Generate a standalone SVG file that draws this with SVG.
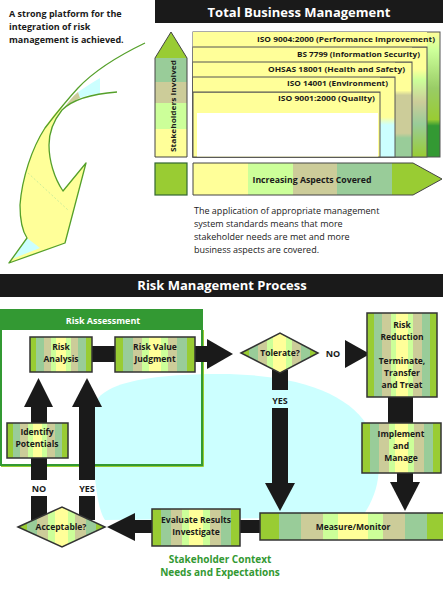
<svg xmlns="http://www.w3.org/2000/svg" width="443" height="594" viewBox="0 0 443 594">
<style>
.t{font-family:"Open Sans","Liberation Sans",sans-serif;font-weight:bold;fill:#1a1a1a;text-anchor:middle}
.w{fill:#ffffff}
.lbl{font-size:8.5px}
.iso{font-size:7.5px;text-anchor:end}
.box{fill:url(#stripe);stroke:#333;stroke-width:1.5}
.bar{fill:#1a1a1a}
.nest{stroke:#555;stroke-width:1}
.p{font-family:"Open Sans","Liberation Sans",sans-serif;font-size:9px;fill:#1a1a1a}
</style>
<defs>
<linearGradient id="stripe" x1="0" y1="0" x2="1" y2="0">
<stop offset="0" stop-color="#99cc33"/><stop offset="0.1" stop-color="#99cc33"/>
<stop offset="0.1" stop-color="#99cc99"/><stop offset="0.22" stop-color="#99cc99"/>
<stop offset="0.22" stop-color="#cccc99"/><stop offset="0.34" stop-color="#cccc99"/>
<stop offset="0.34" stop-color="#ccff99"/><stop offset="0.42" stop-color="#ccff99"/>
<stop offset="0.42" stop-color="#ffff99"/><stop offset="0.58" stop-color="#ffff99"/>
<stop offset="0.58" stop-color="#ccff99"/><stop offset="0.66" stop-color="#ccff99"/>
<stop offset="0.66" stop-color="#cccc99"/><stop offset="0.78" stop-color="#cccc99"/>
<stop offset="0.78" stop-color="#99cc99"/><stop offset="0.9" stop-color="#99cc99"/>
<stop offset="0.9" stop-color="#99cc33"/><stop offset="1" stop-color="#99cc33"/>
</linearGradient>
<linearGradient id="gStake" x1="0" y1="0" x2="0" y2="1">
<stop offset="0" stop-color="#99cc33"/><stop offset="0.21" stop-color="#99cc33"/>
<stop offset="0.21" stop-color="#99cc99"/><stop offset="0.4" stop-color="#99cc99"/>
<stop offset="0.4" stop-color="#cccc99"/><stop offset="0.57" stop-color="#cccc99"/>
<stop offset="0.57" stop-color="#ccff99"/><stop offset="0.78" stop-color="#ccff99"/>
<stop offset="0.78" stop-color="#ffff99"/><stop offset="1" stop-color="#ffff99"/>
</linearGradient>
<linearGradient id="gAspect" x1="0" y1="0" x2="1" y2="0">
<stop offset="0" stop-color="#ffff99"/><stop offset="0.22" stop-color="#ffff99"/>
<stop offset="0.22" stop-color="#ccff99"/><stop offset="0.4" stop-color="#ccff99"/>
<stop offset="0.4" stop-color="#cccc99"/><stop offset="0.58" stop-color="#cccc99"/>
<stop offset="0.58" stop-color="#99cc99"/><stop offset="0.8" stop-color="#99cc99"/>
<stop offset="0.8" stop-color="#99cc33"/><stop offset="1" stop-color="#99cc33"/>
</linearGradient>
<linearGradient id="g9004" x1="0" y1="0" x2="0" y2="1">
<stop offset="0" stop-color="#ffff99"/><stop offset="0.15" stop-color="#ccff99"/>
<stop offset="0.45" stop-color="#99cc66"/><stop offset="0.7" stop-color="#99cc33"/>
<stop offset="0.75" stop-color="#339933"/><stop offset="1" stop-color="#339933"/>
</linearGradient>
<linearGradient id="gBS" x1="0" y1="0" x2="0" y2="1">
<stop offset="0" stop-color="#ffff99"/><stop offset="0.2" stop-color="#ffff99"/>
<stop offset="0.3" stop-color="#ccff99"/><stop offset="0.5" stop-color="#cccc99"/>
<stop offset="0.7" stop-color="#99cc99"/><stop offset="1" stop-color="#99cc33"/>
</linearGradient>
<linearGradient id="gOH" x1="0" y1="0" x2="0" y2="1">
<stop offset="0" stop-color="#ffff99"/><stop offset="0.3" stop-color="#ffff99"/>
<stop offset="0.35" stop-color="#cccc99"/><stop offset="0.75" stop-color="#cccc99"/>
<stop offset="0.8" stop-color="#99cc99"/><stop offset="1" stop-color="#99cc99"/>
</linearGradient>
<linearGradient id="g14" x1="0" y1="0" x2="0" y2="1">
<stop offset="0" stop-color="#ffff99"/><stop offset="0.5" stop-color="#ffff99"/>
<stop offset="0.6" stop-color="#ccffff"/><stop offset="1" stop-color="#ccffff"/>
</linearGradient>
</defs>

<rect width="443" height="594" fill="#ffffff"/>

<!-- Top section -->
<g id="platform-text">
<text class="t" style="font-size:9px;text-anchor:start" x="9" y="17">A strong platform for the</text>
<text class="t" style="font-size:9px;text-anchor:start" x="9" y="30">integration of risk</text>
<text class="t" style="font-size:9px;text-anchor:start" x="9" y="43">management is achieved.</text>
</g>

<g id="curved-arrow">
<path d="M100,78 C92,83 85,87 78,92 L80,98 C88,95 94,94 100,94 Z" fill="#ccffff"/>
<path d="M78,92 C72,97 68,102 64,108 C70,103 75,100 80,98 Z" fill="#cccc99"/>
<path d="M64,104 C55,112 45,125 38,140 C28,160 21,185 20,205 C20,220 23,232 27,238 L9,263 L65,243 L86,163 L63,191 C55,180 50,165 49,150 C48,135 52,122 60,112 Z" fill="#ffff99"/>
<path d="M27,238 L12,259 L40,248 Z" fill="#ccffff"/>
<path d="M28,173 L68,210" stroke="#ccee99" stroke-width="1" stroke-dasharray="2,2" fill="none"/>
<path d="M145,43 C120,55 95,70 78,88 C65,102 55,115 45,128 C32,148 22,178 20,205 C20,220 23,232 27,238 L9,263 L65,243 L86,163 L63,191 C54,178 49,160 49,145 C49,130 54,120 62,110 C72,100 90,94 117,92" fill="none" stroke="#55a02a" stroke-width="1.3" stroke-linejoin="round"/>
</g>

<g id="title-tbm">
<rect x="155" y="0" width="288" height="23" fill="#1a1a1a"/>
<text class="t w" style="font-size:13px" x="299" y="17">Total Business Management</text>
</g>

<g id="stakeholders-involved">
<polygon points="155,58 171,32 187,58 187,157 155,157" fill="url(#gStake)" stroke="#444" stroke-width="1"/>
<text class="t" style="font-size:7.5px" transform="translate(176,106) rotate(-90)" textLength="92" lengthAdjust="spacingAndGlyphs">Stakeholders Involved</text>
</g>

<g id="standards">
<rect class="nest" x="193" y="32" width="247" height="125" fill="url(#g9004)"/>
<rect class="nest" x="193" y="47" width="234" height="110" fill="url(#gBS)"/>
<rect class="nest" x="193" y="62" width="219" height="95" fill="url(#gOH)"/>
<rect class="nest" x="193" y="77" width="202" height="80" fill="url(#g14)"/>
<rect class="nest" x="193" y="92" width="187" height="65" fill="#ffff99"/>
<rect x="197" y="113" width="181" height="43.5" fill="#ffffff"/>
<rect x="193" y="32" width="234" height="15" fill="#ffff99"/>
<rect x="193" y="47" width="219" height="15" fill="#ffff99"/>
<rect x="193" y="62" width="202" height="15" fill="#ffff99"/>
<rect x="193" y="77" width="187" height="15" fill="#ffff99"/>
<path d="M193,47 H427 M193,62 H412 M193,77 H395 M193,92 H380" stroke="#555" stroke-width="1"/>
<text class="t iso" x="435" y="42" textLength="178" lengthAdjust="spacingAndGlyphs">ISO 9004:2000 (Performance Improvement)</text>
<text class="t iso" x="420" y="57" textLength="123" lengthAdjust="spacingAndGlyphs">BS 7799 (Information Security)</text>
<text class="t iso" x="405" y="72" textLength="137" lengthAdjust="spacingAndGlyphs">OHSAS 18001 (Health and Safety)</text>
<text class="t iso" x="388" y="86" textLength="101" lengthAdjust="spacingAndGlyphs">ISO 14001 (Environment)</text>
<text class="t iso" x="375" y="101" textLength="97" lengthAdjust="spacingAndGlyphs">ISO 9001:2000 (Quality)</text>
</g>

<g id="stake-square">
<rect x="155" y="163" width="32" height="32" fill="#99cc33" stroke="#336633" stroke-width="1.2"/>
</g>

<g id="increasing-aspects">
<polygon points="193,163 413,163 442,179 413,195 193,195" fill="url(#gAspect)" stroke="#444" stroke-width="1"/>
<text class="t" style="font-size:8.5px" x="312" y="183" textLength="119" lengthAdjust="spacingAndGlyphs">Increasing Aspects Covered</text>
</g>

<g id="application-text">
<text class="p" x="194" y="214">The application of appropriate management</text>
<text class="p" x="194" y="227">system standards means that more</text>
<text class="p" x="194" y="240">stakeholder needs are met and more</text>
<text class="p" x="194" y="253">business aspects are covered.</text>
</g>

<!-- Bottom section -->
<g id="title-rmp">
<rect x="0" y="274" width="443" height="23" fill="#1a1a1a"/>
<text class="t w" style="font-size:13px" x="222" y="290">Risk Management Process</text>
</g>

<g id="context-bg">
<path d="M95,405 C100,383 150,374 220,374 C300,374 352,395 370,430 C385,460 380,492 362,517 L105,520 C94,505 91,440 95,405 Z" fill="#ccffff"/>
</g>

<g id="risk-assessment">
<rect x="1" y="310" width="201" height="155" fill="none" stroke="#339933" stroke-width="2"/>
<path d="M203.5,330 V466.5 H1" fill="none" stroke="#99cc33" stroke-width="1"/>
<rect x="0" y="309" width="203" height="21" fill="#339933"/>
<text class="t w" style="font-size:9px" x="103" y="324">Risk Assessment</text>
</g>

<g id="connectors">
<rect class="bar" x="92" y="346" width="23" height="16"/>
<rect class="bar" x="195" y="346" width="13" height="16"/>
<polygon class="bar" points="207,339 233,354 207,369"/>
<polygon class="bar" points="345,340 370,354 345,368"/>
<text class="t" style="font-size:9px" x="333" y="357">NO</text>
<rect class="bar" x="388" y="397" width="25" height="27"/>
<rect class="bar" x="397" y="473" width="16" height="10"/>
<polygon class="bar" points="390,482 420,482 405,511"/>
<rect class="bar" x="272" y="370" width="16" height="20"/>
<text class="t" style="font-size:9px" x="280" y="404">YES</text>
<rect class="bar" x="272" y="408" width="16" height="76"/>
<polygon class="bar" points="265,483 295,483 280,511"/>
<rect class="bar" x="240" y="520" width="20" height="13"/>
<rect class="bar" x="134" y="520" width="18" height="13"/>
<polygon class="bar" points="135,513 135,541 107,527"/>
<rect class="bar" x="31" y="458" width="16" height="22"/>
<text class="t" style="font-size:9px" x="39" y="492">NO</text>
<rect class="bar" x="31" y="496" width="16" height="24"/>
<rect class="bar" x="31" y="406" width="16" height="17"/>
<polygon class="bar" points="24,407 53,407 38.5,378"/>
<rect class="bar" x="79" y="406" width="16" height="74"/>
<text class="t" style="font-size:9px" x="87" y="492">YES</text>
<rect class="bar" x="79" y="496" width="16" height="24"/>
<polygon class="bar" points="72,407 102,407 87,378"/>
</g>

<g id="risk-analysis">
<rect class="box" x="30" y="337" width="62" height="35"/>
<text class="t lbl" x="61" y="350">Risk</text>
<text class="t lbl" x="61" y="362">Analysis</text>
</g>
<g id="risk-value-judgment">
<rect class="box" x="115" y="337" width="80" height="35"/>
<text class="t lbl" x="155" y="350">Risk Value</text>
<text class="t lbl" x="155" y="362">Judgment</text>
</g>
<g id="tolerate">
<polygon class="box" points="241,353 280,333 318,353 280,373"/>
<text class="t" style="font-size:8.5px" x="280" y="356">Tolerate?</text>
</g>
<g id="risk-reduction">
<rect class="box" x="367" y="313" width="70" height="84"/>
<text class="t lbl" x="402" y="328">Risk</text>
<text class="t lbl" x="402" y="340">Reduction</text>
<text class="t lbl" x="402" y="364">Terminate,</text>
<text class="t lbl" x="402" y="376">Transfer</text>
<text class="t lbl" x="402" y="388">and Treat</text>
</g>
<g id="implement-manage">
<rect class="box" x="362" y="423" width="79" height="50"/>
<text class="t lbl" x="401" y="437">Implement</text>
<text class="t lbl" x="401" y="449">and</text>
<text class="t lbl" x="401" y="461">Manage</text>
</g>
<g id="measure-monitor">
<rect class="box" x="260" y="513" width="186" height="27"/>
<text class="t lbl" x="353" y="530">Measure/Monitor</text>
</g>
<g id="evaluate-results">
<rect class="box" x="152" y="509" width="88" height="37"/>
<text class="t" style="font-size:8.5px" x="196" y="523">Evaluate Results</text>
<text class="t" style="font-size:8.5px" x="196" y="535">Investigate</text>
</g>
<g id="acceptable">
<polygon class="box" points="18,527 62,507 105,527 62,547"/>
<text class="t" style="font-size:8.5px" x="61" y="530">Acceptable?</text>
</g>
<g id="identify-potentials">
<rect class="box" x="7" y="423" width="61" height="35"/>
<text class="t lbl" x="37" y="435">Identify</text>
<text class="t lbl" x="37" y="447">Potentials</text>
</g>

<g id="stakeholder-context">
<text class="t" style="font-size:10px;fill:#339933" x="220" y="563">Stakeholder Context</text>
<text class="t" style="font-size:10px;fill:#339933" x="220" y="576">Needs and Expectations</text>
</g>
</svg>
